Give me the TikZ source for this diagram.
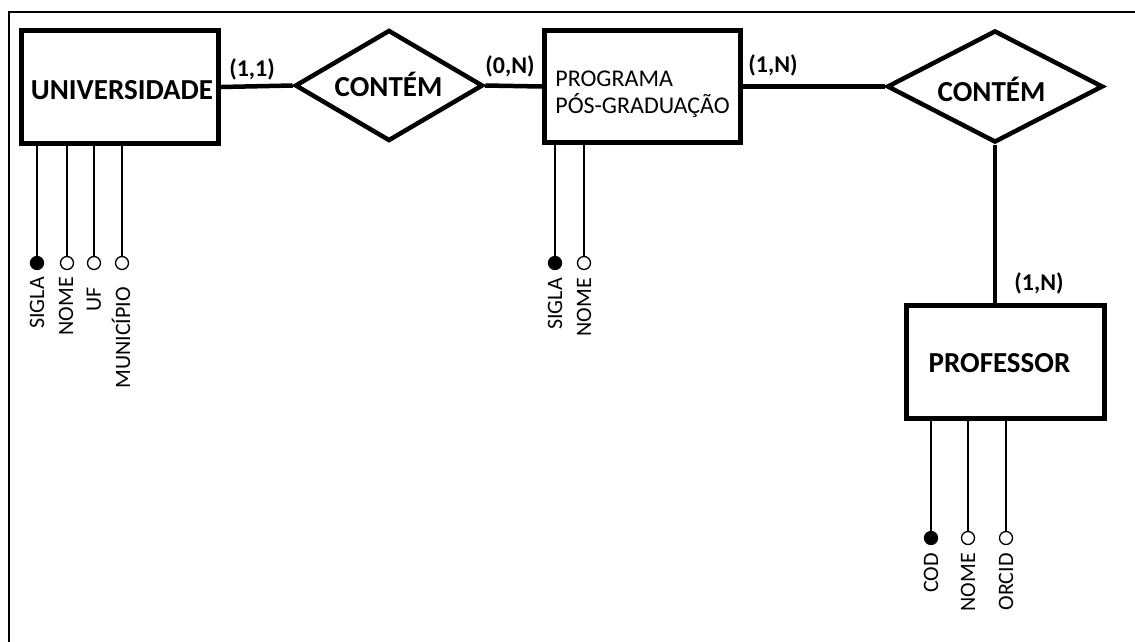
\documentclass[tikz,border=0pt]{standalone}
\usepackage{fontspec}
\setmainfont{Carlito}
\usetikzlibrary{shapes.geometric}

\tikzset{
  entity/.style={draw, line width=5pt, rectangle, inner sep=0pt},
  relation/.style={draw, line width=4.5pt, diamond, inner sep=0pt, line join=miter},
  link/.style={line width=4.5pt},
  etext/.style={inner sep=0pt, font=\bfseries\fontsize{29}{34}\selectfont},
  ptext/.style={inner sep=0pt, align=left, font=\fontsize{24}{27}\selectfont},
  card/.style={inner sep=0pt, font=\bfseries\fontsize{24}{28}\selectfont},
  keyattr/.style={circle, draw, fill=black, line width=1.3pt, minimum size=13pt, inner sep=0pt},
  attr/.style={circle, draw, fill=white, line width=1.3pt, minimum size=13pt, inner sep=0pt},
  attrline/.style={line width=1.5pt},
  atext/.style={inner sep=0pt, rotate=90, anchor=east, font=\fontsize{22}{26}\selectfont},
}

\begin{document}
\begin{tikzpicture}[x=1pt, y=-1pt]
\useasboundingbox (0,0) rectangle (1135,641);

% outer frame (only top and left edges fall inside the page)
\draw[line width=2pt] (8.5,660) -- (8.5,11.5) -- (1150,11.5);

% entities
\node[entity, minimum width=197pt, minimum height=113pt] (U) at (120,87) {};
\node[etext] (Ut) at (122,90.5) {UNIVERSIDADE};

\node[entity, minimum width=196pt, minimum height=112pt] (P) at (642.5,86.5) {};
\node[ptext] (Pt) at (642.5,94) {PROGRAMA\\PÓS-GRADUAÇÃO};

\node[entity, minimum width=198pt, minimum height=113pt] (F) at (1005.5,362) {};
\node[etext] (Ft) at (999.5,363.5) {PROFESSOR};

% relationships
\node[relation, minimum width=188pt, minimum height=111pt] (R1) at (389,85.5) {};
\node[etext] (R1t) at (388.5,84) {CONTÉM};

\node[relation, minimum width=216pt, minimum height=112pt] (R2) at (995,86.5) {};
\node[etext] (R2t) at (991.5,89) {CONTÉM};

% connectors
\draw[link] (U.east) -- (R1.west);
\draw[link] (R1.east) -- (P.west);
\draw[link] (P.east) -- (R2.west);
\draw[link] (R2.south) -- (R2.south |- F.north);

% cardinalities
\node[card] (c1) at (252,69) {(1,1)};
\node[card] (c2) at (510,66) {(0,N)};
\node[card] (c3) at (773,65) {(1,N)};
\node[card] (c4) at (1039,283) {(1,N)};

% attributes of UNIVERSIDADE
\node[keyattr] (ua1) at (37,263) {};
\node[attr] (ua2) at (67,263) {};
\node[attr] (ua3) at (94,263) {};
\node[attr] (ua4) at (122,263) {};
\foreach \a in {ua1,ua2,ua3,ua4}
  \draw[attrline] (\a) -- (\a |- U.south);
\node[atext] (ut1) at (37,277) {SIGLA};
\node[atext] (ut2) at (66,277) {NOME};
\node[atext] (ut3) at (94,287) {UF};
\node[atext] (ut4) at (121,287) {MUNICÍPIO};

% attributes of PROGRAMA PÓS-GRADUAÇÃO
\node[keyattr] (pa1) at (555,263) {};
\node[attr] (pa2) at (584,263) {};
\foreach \a in {pa1,pa2}
  \draw[attrline] (\a) -- (\a |- P.south);
\node[atext] (pt1) at (555,278) {SIGLA};
\node[atext] (pt2) at (584,278) {NOME};

% attributes of PROFESSOR
\node[keyattr] (fa1) at (931,538) {};
\node[attr] (fa2) at (968,538) {};
\node[attr] (fa3) at (1006,538) {};
\foreach \a in {fa1,fa2,fa3}
  \draw[attrline] (\a) -- (\a |- F.south);
\node[atext] (ft1) at (931,553) {COD};
\node[atext] (ft2) at (968,553) {NOME};
\node[atext] (ft3) at (1006,553) {ORCID};
\end{tikzpicture}
\end{document}
